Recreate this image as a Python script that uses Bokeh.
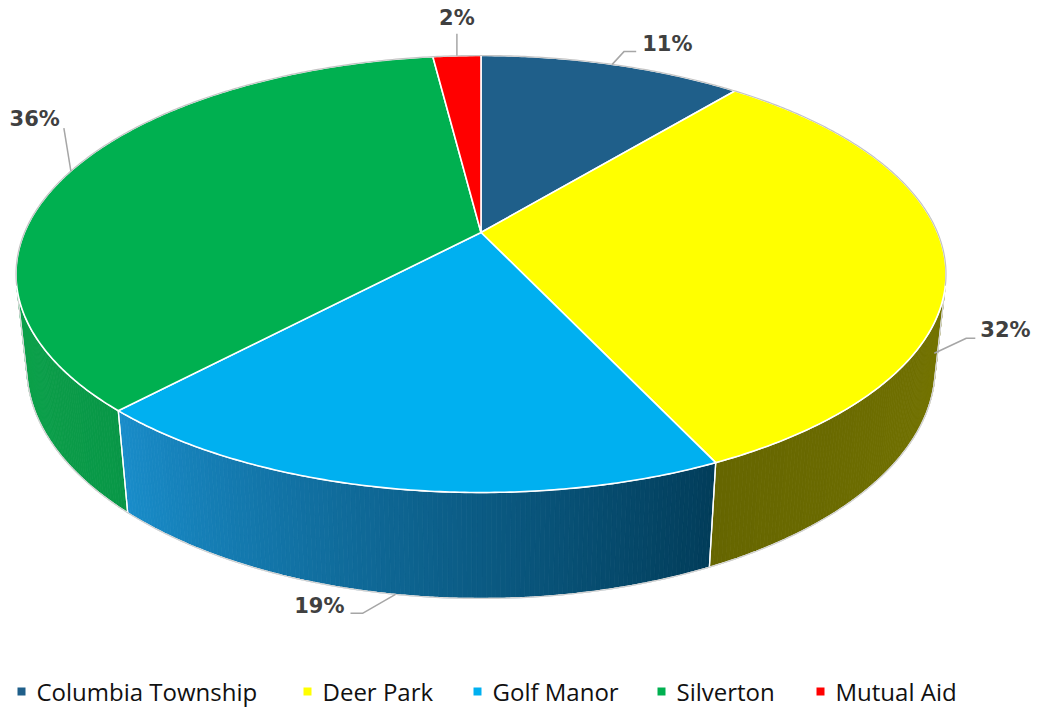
import numpy as np
from bokeh.plotting import figure
from bokeh.models import Range1d
from bokeh.embed import file_html
from bokeh.resources import INLINE
from bokeh.core.properties import value

# ---------------- data ----------------
categories = ["Columbia Township", "Deer Park", "Golf Manor", "Silverton", "Mutual Aid"]
shares = [11, 32, 19, 36, 2]
label_texts = ["11%", "32%", "19%", "36%", "2%"]

# ---------------- style ----------------
top_colors = ["#1F5F8A", "#FFFF00", "#00B0F0", "#00B050", "#FF0000"]
# side gradient (left end, right end) as seen on screen
side_colors = {
    "Columbia Township": ("#123850", "#123850"),
    "Deer Park": ("#666600", "#747400"),
    "Golf Manor": ("#1A8DCA", "#023D5A"),
    "Silverton": ("#0BA24A", "#099747"),
    "Mutual Aid": ("#990000", "#990000"),
}

# geometry of the tilted pie (screen pixels)
CX, CY = 480.5, 232.0      # projected pie centre
HALF_W = 465.0             # half width of top ellipse
FAR = 177.0                # centre -> back edge
NEAR = 260.0               # centre -> front edge
DEPTH = 106.0              # thickness at front

k = (NEAR - FAR) / (NEAR + FAR)
b = FAR * (1 + k)
a = HALF_W * np.sqrt(1 - k * k)
sinE = b / a
cosE = np.sqrt(1 - sinE ** 2)
N = cosE / k
L = N * cosE
H = N * sinE
F = a * N
Yb = NEAR + DEPTH
h = (Yb * (N * N - L) - F * H) / (F * L - Yb * H)


def proj(x, y, z):
    dy = y + L
    dz = z - H
    df = (L * dy - H * dz) / N
    du = (H * dy + L * dz) / N
    return CX + F * x / df, CY - F * du / df


def rim(theta_deg, z):
    t = np.radians(theta_deg)
    return proj(np.sin(t), np.cos(t), z)


def hex2rgb(c):
    c = c.lstrip("#")
    return np.array([int(c[i:i + 2], 16) for i in (0, 2, 4)], dtype=float)


def rgb2hex(v):
    v = np.clip(np.round(v), 0, 255).astype(int)
    return "#%02x%02x%02x" % tuple(v)


total = float(sum(shares))
fr = np.array(shares) / total
ends = np.cumsum(fr) * 360.0
starts = ends - fr * 360.0

vis1 = np.degrees(np.arccos(-1.0 / L))
vis2 = 360.0 - vis1

W, Hh = 1031, 707
p = figure(width=W, height=Hh, x_range=Range1d(0, W), y_range=Range1d(Hh, 0),
           output_backend="svg", toolbar_location=None, min_border=0)
p.axis.visible = False
p.grid.visible = False
p.outline_line_color = None
p.background_fill_color = "white"
p.border_fill_color = "white"

# ---------------- sides ----------------
strip_xs, strip_ys, strip_cols = [], [], []
out_xs, out_ys = [], []
for i, cat in enumerate(categories):
    s0 = max(starts[i], vis1)
    s1 = min(ends[i], vis2)
    if s1 <= s0:
        continue
    n = max(2, int((s1 - s0) / 0.5))
    th = np.linspace(s0, s1, n + 1)
    cl, cr = hex2rgb(side_colors[cat][0]), hex2rgb(side_colors[cat][1])
    for j in range(n):
        ta, tb = th[j], th[j + 1]
        xa0, ya0 = rim(ta, 0)
        xb0, yb0 = rim(tb, 0)
        xa1, ya1 = rim(ta, -h)
        xb1, yb1 = rim(tb, -h)
        strip_xs.append([xa0, xb0, xb1, xa1])
        strip_ys.append([ya0, yb0, yb1, ya1])
        f = ((ta + tb) / 2 - s0) / (s1 - s0)  # 0 at right, 1 at left
        strip_cols.append(rgb2hex(cr + (cl - cr) * f))
    tx, ty = rim(th, 0)
    bx, by = rim(th[::-1], -h)
    out_xs.append(list(tx) + list(bx))
    out_ys.append(list(ty) + list(by))

p.patches(strip_xs, strip_ys, fill_color=strip_cols, line_color=strip_cols, line_width=0.8)
p.patches(out_xs, out_ys, fill_color=None, line_color="white", line_width=1.3)
# bottom silhouette
thb = np.linspace(vis1, vis2, 300)
bx, by = rim(thb, -h)
p.line(bx, by, line_color="#cfcfcf", line_width=1.2)
for t in (vis1, vis2):
    x0, y0 = rim(t, 0)
    x1, y1 = rim(t, -h)
    p.line([x0, x1], [y0, y1], line_color="#cfcfcf", line_width=1.0)

# ---------------- top face ----------------
top_xs, top_ys = [], []
for i in range(len(categories)):
    th = np.linspace(starts[i], ends[i], max(3, int(fr[i] * 720)))
    x, y = rim(th, 0)
    top_xs.append([CX] + list(x))
    top_ys.append([CY] + list(y))
p.patches(top_xs, top_ys, fill_color=top_colors, line_color="white", line_width=1.6,
          line_join="round")
thb = np.linspace(vis2, vis1 + 360, 400)
bx, by = rim(thb, 0)
p.line(bx, by, line_color="#c4c4c4", line_width=1.2)

# ---------------- data labels ----------------
# leader geometry relative to anchor: (elbow dx, elbow dy, end dx, end dy, text dx, text dy, align)
label_layout = [
    (12, -13, 24, -13, 30, -20, "left"),
    (32, -15, 41, -15, 46, -23, "left"),
    (-33, 19, -45, 19, -51, 12, "right"),
    (-7, -43, -7, -43, -11, -52, "right"),
    (0, -22, 0, -22, 0, -38, "center"),
]
for i in range(len(categories)):
    mid = (starts[i] + ends[i]) / 2
    z = -h if np.cos(np.radians(mid)) < 0 else 0.0
    ax, ay = rim(mid, z)
    ex, ey, fx, fy, tx, ty, al = label_layout[i]
    p.line([ax, ax + ex, ax + fx], [ay, ay + ey, ay + fy], line_color="#a6a6a6", line_width=1.5)
    p.text([ax + tx], [ay + ty], text=[label_texts[i]], text_align=al, text_baseline="middle",
           text_font=value("DejaVu Sans"), text_font_style="bold", text_font_size="21px",
           text_color="#404040")

# ---------------- legend ----------------
legend_marker_x = [21, 307, 477, 661, 820]
legend_mid = 691
p.scatter(legend_marker_x, [legend_mid] * 5, marker="square", size=8,
          fill_color=top_colors, line_color=None)
p.text([x + 15 for x in legend_marker_x], [legend_mid] * 5, text=categories, text_align="left",
       text_baseline="middle", text_font=value("Open Sans"), text_font_size="24px",
       text_color="#111111")

open("out.html", "w").write(file_html(p, INLINE))
